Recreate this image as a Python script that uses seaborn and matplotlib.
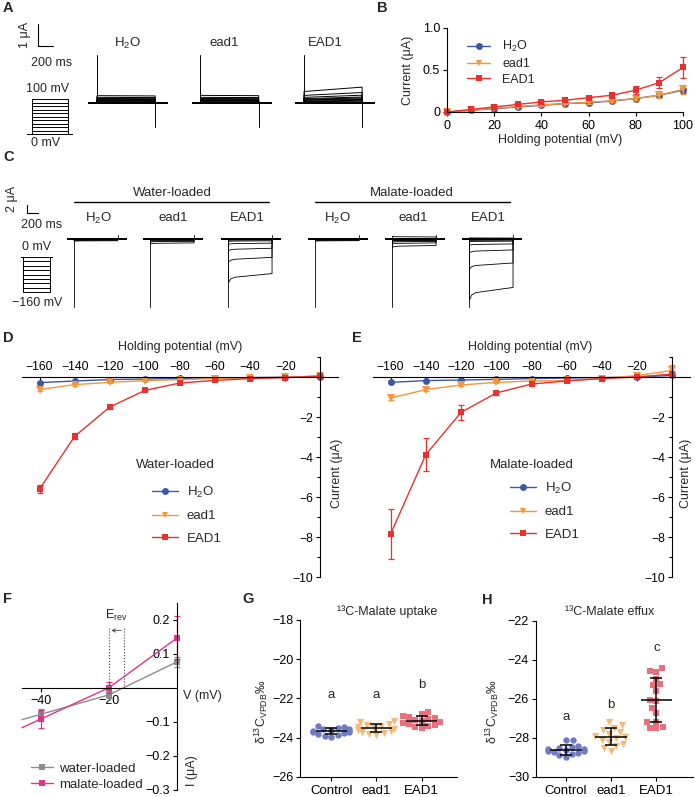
import numpy as np
import pandas as pd
import matplotlib
matplotlib.use("Agg")
import matplotlib.pyplot as plt
from matplotlib.lines import Line2D
import seaborn as sns

# ---------------- data ----------------
genotypes = ["H$_2$O", "ead1", "EAD1"]
categories = ["Control", "ead1", "EAD1"]

# B: I-V at positive potentials (uA)
b_voltage = [0, 10, 20, 30, 40, 50, 60, 70, 80, 90, 100]
b_h2o = [0.0, 0.02, 0.04, 0.06, 0.08, 0.10, 0.11, 0.13, 0.16, 0.20, 0.26]
b_ead1 = [0.0, 0.02, 0.045, 0.065, 0.085, 0.10, 0.115, 0.135, 0.16, 0.20, 0.27]
b_EAD1 = [0.0, 0.03, 0.06, 0.09, 0.12, 0.14, 0.17, 0.20, 0.26, 0.35, 0.53]
b_h2o_err = [0, 0.005, 0.005, 0.01, 0.01, 0.01, 0.01, 0.015, 0.02, 0.02, 0.03]
b_ead1_err = [0, 0.005, 0.005, 0.01, 0.01, 0.01, 0.015, 0.015, 0.02, 0.03, 0.05]
b_EAD1_err = [0, 0.01, 0.01, 0.015, 0.02, 0.02, 0.025, 0.03, 0.05, 0.07, 0.12]

# D / E: I-V at negative potentials (uA)
d_voltage = [-160, -140, -120, -100, -80, -60, -40, -20, 0]
d_h2o = [-0.28, -0.20, -0.13, -0.10, -0.07, -0.05, -0.03, -0.01, 0.0]
d_ead1 = [-0.63, -0.38, -0.27, -0.18, -0.13, -0.08, -0.05, -0.02, 0.06]
d_EAD1 = [-5.6, -2.97, -1.5, -0.67, -0.30, -0.17, -0.08, -0.03, 0.05]
d_h2o_err = [0.03, 0.03, 0.02, 0.02, 0.02, 0.01, 0.01, 0.01, 0.01]
d_ead1_err = [0.08, 0.05, 0.04, 0.03, 0.02, 0.02, 0.02, 0.02, 0.05]
d_EAD1_err = [0.20, 0.15, 0.08, 0.05, 0.03, 0.02, 0.02, 0.02, 0.05]

e_h2o = [-0.27, -0.18, -0.15, -0.12, -0.08, -0.05, -0.03, 0.0, 0.08]
e_ead1 = [-1.05, -0.63, -0.40, -0.27, -0.20, -0.17, -0.08, 0.07, 0.33]
e_EAD1 = [-7.85, -3.88, -1.77, -0.80, -0.35, -0.20, -0.08, 0.0, 0.15]
e_h2o_err = [0.03, 0.03, 0.02, 0.02, 0.02, 0.01, 0.01, 0.01, 0.03]
e_ead1_err = [0.10, 0.08, 0.05, 0.03, 0.02, 0.02, 0.02, 0.05, 0.25]
e_EAD1_err = [1.25, 0.83, 0.38, 0.10, 0.05, 0.03, 0.02, 0.05, 0.10]

# F: reversal potential (uA)
f_voltage = [-40, -20, 0]
f_water = [-0.078, -0.021, 0.076]
f_water_err = [0.015, 0.010, 0.015]
f_malate = [-0.092, 0.0, 0.146]
f_malate_err = [0.027, 0.016, 0.063]

# G: 13C-malate uptake
g_control = [-23.42, -23.45, -23.50, -23.55, -23.58, -23.62, -23.65, -23.66,
             -23.70, -23.72, -23.78, -23.80, -23.85, -23.90, -23.95]
g_ead1 = [-23.15, -23.20, -23.30, -23.35, -23.40, -23.45, -23.50, -23.55,
          -23.60, -23.65, -23.70, -23.75, -23.80, -23.85]
g_EAD1 = [-22.70, -22.80, -22.90, -22.95, -23.00, -23.05, -23.10, -23.15,
          -23.20, -23.25, -23.30, -23.35, -23.40, -23.45, -23.50]
g_letters = ["a", "a", "b"]

# H: 13C-malate efflux
h_control = [-28.10, -28.10, -28.40, -28.50, -28.55, -28.60, -28.60, -28.65,
             -28.70, -28.70, -28.75, -28.80, -28.85, -28.90, -29.00]
h_ead1 = [-27.20, -27.35, -27.50, -27.60, -27.70, -27.80, -27.90, -27.95,
          -28.00, -28.10, -28.20, -28.30, -28.40, -28.55, -28.70]
h_EAD1 = [-24.45, -24.58, -24.65, -25.00, -25.26, -25.30, -25.59, -26.05,
          -26.10, -26.46, -26.72, -27.18, -27.18, -27.44, -27.48, -27.52]
h_letters = ["a", "b", "c"]

# representative-trace decorations (capacitive spikes, uA)
a_spike = [2.2, -1.1]
c_spike = [-10.4, 0.6]

# ---------------- style ----------------
sns.set_theme(style="ticks", rc={"axes.linewidth": 0.8, "xtick.major.width": 0.8,
                                 "ytick.major.width": 0.8, "xtick.minor.width": 0.8,
                                 "ytick.minor.width": 0.8, "xtick.major.size": 3,
                                 "ytick.major.size": 3, "xtick.minor.size": 2,
                                 "ytick.minor.size": 2})
plt.rcParams["font.family"] = ["Liberation Sans", "DejaVu Sans"]
plt.rcParams["mathtext.fontset"] = "custom"
plt.rcParams["mathtext.rm"] = "Liberation Sans"
plt.rcParams["mathtext.it"] = "Liberation Sans:italic"
plt.rcParams["mathtext.bf"] = "Liberation Sans:bold"
plt.rcParams["axes.unicode_minus"] = True
plt.rcParams["axes.edgecolor"] = "black"
plt.rcParams["xtick.color"] = "black"
plt.rcParams["ytick.color"] = "black"

BLUE, ORANGE, RED = "#3b57a6", "#f4963a", "#e5322d"
GRAY, MAGENTA = "#8c8c8c", "#e0348c"
S_CTRL, S_EAD1L, S_EAD1U = "#6f7bc0", "#f6b978", "#e8707c"
FS = 9

W, H = 695, 797
fig = plt.figure(figsize=(W / 100, H / 100), dpi=100)


def ax_px(l, t, r, b):
    return fig.add_axes([l / W, 1 - b / H, (r - l) / W, (b - t) / H])


def ftext(x, y, s, **kw):
    kw.setdefault("ha", "center")
    kw.setdefault("va", "center")
    kw.setdefault("fontsize", FS)
    fig.text(x / W, 1 - y / H, s, **kw)


def fline(xs, ys, **kw):
    kw.setdefault("color", "black")
    kw.setdefault("lw", 0.8)
    fig.add_artist(Line2D([x / W for x in xs], [1 - y / H for y in ys],
                          transform=fig.transFigure, **kw))


# panel letters
for lab, x, y in [("A", 3, 8), ("B", 377, 8), ("C", 3, 157), ("D", 3, 338),
                  ("E", 352, 338), ("F", 3, 599), ("G", 242, 599), ("H", 482, 600)]:
    ftext(x, y, lab, ha="left", fontsize=10.5, fontweight="bold")

# ---------------- A ----------------
fline([38, 38, 53], [24, 45.7, 45.7])
ftext(25, 35, "1 μA", rotation=90)
ftext(52, 63, "200 ms")
ftext(48, 89, "100 mV")
ftext(46, 143, "0 mV")
axp = ax_px(27, 97.25, 73, 135.75)
for v in b_voltage:
    axp.plot([0, 67, 67, 547, 547, 613], [0, 0, v, v, 0, 0], color="black", lw=0.7)
axp.set_xlim(0, 613)
axp.set_ylim(-5, 105)
axp.axis("off")

a_on, a_off, a_end = 120, 895, 1067
a_mult = [(1.3, 1.25), (1.3, 1.25), (1.0, 1.38)]
a_lab_x = [127.5, 224, 325]
for i, (name, amps) in enumerate(zip(genotypes, [b_h2o, b_ead1, b_EAD1])):
    ax = ax_px(88 + i * 103.5, 53.1, 168 + i * 103.5, 131.2)
    m0, m1 = a_mult[i]
    for I in amps:
        ax.plot([0, a_on, a_on, a_off, a_off, a_end], [0, 0, I * m0, I * m1, 0, 0],
                color="black", lw=0.7)
    ax.plot([0, a_end], [0, 0], color="black", lw=1.3)
    ax.plot([a_on, a_on], [0, a_spike[0]], color="black", lw=0.7)
    ax.plot([a_off, a_off], [0, a_spike[1]], color="black", lw=0.7)
    ax.set_xlim(0, a_end)
    ax.set_ylim(-1.3, 2.3)
    ax.axis("off")
    ftext(a_lab_x[i], 43, name, fontsize=9.5)

# ---------------- B ----------------
axB = ax_px(447, 28, 683, 112)
for name, y, err, col, mk in zip(genotypes, [b_h2o, b_ead1, b_EAD1],
                                 [b_h2o_err, b_ead1_err, b_EAD1_err],
                                 [BLUE, ORANGE, RED], ["o", "v", "s"]):
    axB.errorbar(b_voltage, y, yerr=err, fmt="none", ecolor=col, elinewidth=0.9,
                 capsize=2.5, capthick=0.9, clip_on=False)
    sns.lineplot(x=b_voltage, y=y, color=col, marker=mk, markersize=5 if mk != "v" else 5.5,
                 markeredgewidth=0, lw=1, ax=axB)
for ln in axB.lines:
    ln.set_clip_on(False)
axB.set_xlim(0, 100)
axB.set_ylim(0, 1.0)
axB.set_xticks([0, 20, 40, 60, 80, 100])
axB.set_yticks([0, 0.5, 1.0])
axB.set_yticklabels(["0", "0.5", "1.0"])
axB.tick_params(axis="y", labelsize=FS, pad=2)
axB.tick_params(axis="x", labelsize=FS, pad=2.5)
sns.despine(ax=axB)
axB.set_xlabel("")
axB.set_ylabel("")
ftext(408, 70, "Current (μA)", rotation=90)
ftext(560, 140, "Holding potential (mV)")
hB = [Line2D([], [], color=c, marker=m, lw=1, markersize=5, markeredgewidth=0)
      for c, m in zip([BLUE, ORANGE, RED], ["o", "v", "s"])]
axB.legend(hB, genotypes, loc="upper left", bbox_to_anchor=(461 / W, 1 - 33 / H),
           bbox_transform=fig.transFigure, frameon=False, fontsize=FS, borderpad=0,
           handlelength=1.8, handletextpad=1.0, labelspacing=0.3)

# ---------------- C ----------------
fline([27, 27, 38], [205, 213, 213])
ftext(11.5, 199, "2 μA", rotation=90)
ftext(42, 225, "200 ms")
ftext(37, 247, "0 mV")
ftext(37, 303, "−160 mV")
axcp = ax_px(21, 255.9, 53, 293.1)
for v in d_voltage:
    axcp.plot([0, 29, 29, 414, 414, 457], [0, 0, v, v, 0, 0], color="black", lw=0.7)
axcp.set_xlim(0, 457)
axcp.set_ylim(-165, 5)
axcp.axis("off")

ftext(172, 193, "Water-loaded", fontsize=9.5)
ftext(412, 193, "Malate-loaded", fontsize=9.5)
fline([74, 269], [202, 202], lw=1)
fline([315, 510], [202, 202], lw=1)

c_on, c_off, c_end = 107, 729, 857
c_shape_t = [0, 30, 90, c_off - c_on]
c_shape_f = [1.2, 1.1, 1.05, 0.95]
c_left = [66.7, 143, 221, 308, 385, 462]
c_lab_x = [98, 173, 247, 337, 413, 488]
c_sets = [d_h2o, d_ead1, d_EAD1, e_h2o, e_ead1, e_EAD1]
for i, amps in enumerate(c_sets):
    ax = ax_px(c_left[i], 232.5, c_left[i] + 60, 310.5)
    for I in amps:
        ts = [0, c_on] + [c_on + t for t in c_shape_t] + [c_off, c_end]
        ys = [0, 0] + [I * f for f in c_shape_f] + [0, 0]
        ax.plot(ts, ys, color="black", lw=0.6)
    ax.plot([0, c_end], [0, 0], color="black", lw=1.4)
    ax.plot([c_on, c_on], [0, c_spike[0]], color="black", lw=0.6)
    ax.plot([c_off, c_off], [0, c_spike[1]], color="black", lw=0.6)
    ax.set_xlim(0, c_end)
    ax.set_ylim(-11, 1)
    ax.axis("off")
    ftext(c_lab_x[i], 218, genotypes[i % 3], fontsize=9.5)


# ---------------- D / E ----------------
def iv_panel(l, r, sets, errs, title_x, leg_title, leg_title_x, leg_xy, ylab_x):
    ax = ax_px(l, 357, r, 577)
    for name, y, err, col, mk in zip(genotypes, sets, errs, [BLUE, ORANGE, RED],
                                     ["o", "v", "s"]):
        ax.errorbar(d_voltage, y, yerr=err, fmt="none", ecolor=col, elinewidth=0.9,
                    capsize=2.5, capthick=0.9)
        sns.lineplot(x=d_voltage, y=y, color=col, marker=mk,
                     markersize=5 if mk != "v" else 5.8, markeredgewidth=0, lw=1, ax=ax)
    ax.set_xlim(-170, 10)
    ax.set_ylim(-10, 1)
    ax.spines["right"].set_visible(False)
    ax.spines["bottom"].set_visible(False)
    ax.spines["left"].set_position(("data", 0))
    ax.spines["top"].set_position(("data", 0))
    ax.xaxis.tick_top()
    ax.set_xticks(list(range(-160, 0, 20)))
    ax.tick_params(axis="x", direction="in", labelsize=8.8, pad=3)
    ax.set_yticks([-10, -8, -6, -4, -2])
    ax.set_yticks([-9, -7, -5, -3, -1, 1], minor=True)
    ax.tick_params(axis="y", which="both", direction="out", labelsize=8.8, pad=2)
    ax.set_xlabel("")
    ax.set_ylabel("")
    ftext(title_x, 347, "Holding potential (mV)", fontsize=9)
    ftext(ylab_x, 473, "Current (μA)", rotation=90, fontsize=9)
    ftext(leg_title_x, 465, leg_title, fontsize=9.5)
    hh = [Line2D([], [], color=c, marker=m, lw=1, markersize=5, markeredgewidth=0)
          for c, m in zip([BLUE, ORANGE, RED], ["o", "v", "s"])]
    ax.legend(hh, genotypes, loc="upper left", bbox_to_anchor=(leg_xy[0] / W, 1 - leg_xy[1] / H),
              bbox_transform=fig.transFigure, frameon=False, fontsize=9.5, borderpad=0,
              handlelength=2.0, handletextpad=0.65, labelspacing=0.78)
    return ax


iv_panel(22, 338, [d_h2o, d_ead1, d_EAD1], [d_h2o_err, d_ead1_err, d_EAD1_err],
         180, "Water-loaded", 175, (145, 478), 337)
iv_panel(373, 690, [e_h2o, e_ead1, e_EAD1], [e_h2o_err, e_ead1_err, e_EAD1_err],
         530, "Malate-loaded", 532, (503, 474), 686)

# ---------------- F ----------------
axF = ax_px(22, 602.5, 177, 790)
f_xlim = (-45.5, 0)
for name, y, err, col in [("water-loaded", f_water, f_water_err, GRAY),
                          ("malate-loaded", f_malate, f_malate_err, MAGENTA)]:
    slope = (y[1] - y[0]) / (f_voltage[1] - f_voltage[0])
    axF.plot([f_xlim[0], f_voltage[0]], [y[0] + slope * (f_xlim[0] - f_voltage[0]), y[0]],
             color=col, lw=1)
    axF.errorbar(f_voltage, y, yerr=err, fmt="none", ecolor=col, elinewidth=0.9,
                 capsize=2.5, capthick=0.9, clip_on=False)
    sns.lineplot(x=f_voltage, y=y, color=col, marker="s", markersize=5,
                 markeredgewidth=0, lw=1, ax=axF)
for ln in axF.lines:
    ln.set_clip_on(False)
x_w0 = float(np.interp(0, f_water, f_voltage))
x_m0 = float(np.interp(0, f_malate, f_voltage))
for xv in (x_w0, x_m0):
    axF.plot([xv, xv], [0, 0.175], ls=":", color="#444444", lw=0.8)
axF.annotate("", xy=(x_m0 + 0.7, 0.168), xytext=(x_w0 - 0.7, 0.168),
             arrowprops=dict(arrowstyle="->", lw=0.6, color="#444444",
                             shrinkA=0, shrinkB=0, mutation_scale=6))
axF.text((x_w0 + x_m0) / 2, 0.213, "E$_{\\mathrm{rev}}$", ha="center", va="center",
         fontsize=9)
axF.set_xlim(*f_xlim)
axF.set_ylim(-0.3, 0.25)
axF.spines["right"].set_visible(False)
axF.spines["top"].set_visible(False)
axF.spines["left"].set_position(("data", 0))
axF.spines["bottom"].set_position(("data", 0))
axF.set_xticks([-40, -20])
axF.set_yticks([-0.3, -0.2, -0.1, 0.1, 0.2])
axF.tick_params(labelsize=9, pad=2)
axF.set_xlabel("")
axF.set_ylabel("")
ftext(183, 696, "V (mV)", ha="left")
ftext(192, 771, "I (μA)", rotation=90)
hF = [Line2D([], [], color=c, marker="s", lw=1, markersize=5, markeredgewidth=0)
      for c in [GRAY, MAGENTA]]
axF.legend(hF, ["water-loaded", "malate-loaded"], loc="upper left",
           bbox_to_anchor=(24 / W, 1 - 756 / H), bbox_transform=fig.transFigure,
           frameon=False, fontsize=9.5, borderpad=0, handlelength=1.7,
           handletextpad=0.45, labelspacing=0.3)


# ---------------- G / H ----------------
def dot_panel(box, xlim, ylim, yticks, groups, letters, letter_y, title, title_xy, ylab_xy):
    ax = ax_px(*box)
    df = pd.DataFrame({"grp": np.repeat(categories, [len(g) for g in groups]),
                       "val": np.concatenate(groups)})
    for cat, col, mk in zip(categories, [S_CTRL, S_EAD1L, S_EAD1U], ["o", "v", "s"]):
        sns.swarmplot(data=df[df.grp == cat], x="grp", y="val", order=categories,
                      color=col, marker=mk, size=4.6 if mk != "v" else 5.2,
                      linewidth=0, ax=ax)
    for i, g in enumerate(groups):
        m, sd = np.mean(g), np.std(g, ddof=1)
        ax.hlines(m, i - 0.35, i + 0.35, color="black", lw=1.1, zorder=5)
        ax.errorbar(i, m, yerr=sd, fmt="none", ecolor="black", elinewidth=1.1,
                    capsize=4, capthick=1.1, zorder=5)
        ax.text(i, letter_y[i], letters[i], ha="center", va="center", fontsize=9.5)
    ax.set_xlim(*xlim)
    ax.set_ylim(*ylim)
    ax.set_yticks(yticks)
    ax.set_xticks([0, 1, 2])
    ax.set_xticklabels(categories)
    ax.tick_params(axis="y", labelsize=9, pad=2)
    ax.tick_params(axis="x", labelsize=9.5, pad=3)
    sns.despine(ax=ax)
    ax.set_xlabel("")
    ax.set_ylabel("")
    ftext(title_xy[0], title_xy[1], title, fontsize=9)
    ftext(ylab_xy[0], ylab_xy[1], "δ$^{13}$C$_{\\mathrm{VPDB}}$‰", rotation=90, fontsize=9)


dot_panel((300.2, 620, 456.7, 776.7), (-0.69, 2.78), (-26, -18), [-26, -24, -22, -20, -18],
          [g_control, g_ead1, g_EAD1], g_letters, [-21.83, -21.83, -21.32],
          "¹³C-Malate uptake", (387, 612), (261, 712))
dot_panel((536, 620.7, 693, 776.7), (-0.66, 2.81), (-30, -22), [-30, -28, -26, -24, -22],
          [h_control, h_ead1, h_EAD1], h_letters, [-26.92, -26.32, -23.4],
          "¹³C-Malate effux", (610, 612), (492, 712))

fig.savefig("out.png", dpi=100)
